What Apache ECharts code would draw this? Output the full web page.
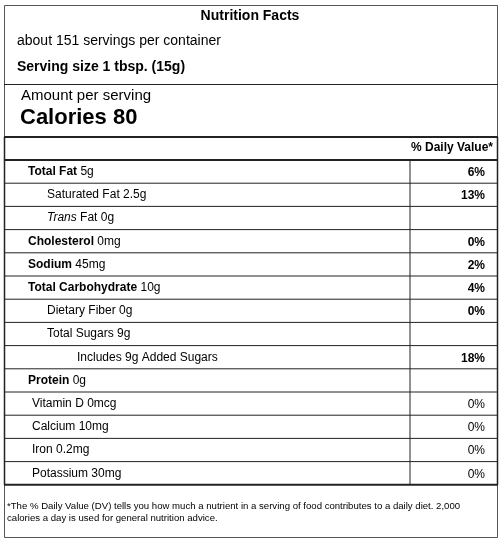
<!DOCTYPE html><html><head><meta charset="utf-8"><script src="https://cdn.jsdelivr.net/npm/echarts@6/dist/echarts.min.js"></script>
<style>html,body{margin:0;padding:0;background:#fff}#c{width:500px;height:541px}</style></head><body><div id="c"></div><script>
const nutrientNames=["Total Fat","Saturated Fat","Trans","Cholesterol","Sodium","Total Carbohydrate","Dietary Fiber","Total Sugars","Includes 9g Added Sugars","Protein","Vitamin D","Calcium","Iron","Potassium"];
const nutrientAmounts=["5g","2.5g","Fat 0g","0mg","45mg","10g","0g","9g","","0g","0mcg","10mg","0.2mg","30mg"];
const dailyValues=["6%","13%","","0%","2%","4%","0%","","18%","","0%","0%","0%","0%"];
const boldName=[1,0,0,1,1,1,0,0,0,1,0,0,0,0];
const boldDV=[1,1,0,1,1,1,1,0,1,0,0,0,0,0];
const indent=[28,47,47,28,28,28,47,47,77,28,32,32,32,32];
const F='"Liberation Sans",Arial,sans-serif';
const g=[];
const L=(x1,y1,x2,y2,w)=>g.push({type:'line',shape:{x1,y1,x2,y2},style:{stroke:'#222',lineWidth:w||1}});
const T=(x,y,t,o)=>g.push({type:'text',x,y,style:Object.assign({text:t,fill:'#000',font:'13px '+F,verticalAlign:'middle'},o||{})});
g.push({type:'rect',shape:{x:4.5,y:5.5,width:493,height:532},style:{fill:'none',stroke:'#555',lineWidth:1}});
T(250,16,'Nutrition Facts',{font:'bold 14px '+F,align:'center'});
T(17,41,'about 151 servings per container',{font:'14px '+F});
T(17,67,'Serving size 1 tbsp. (15g)',{font:'bold 14px '+F});
L(4,84.5,498,84.5);
T(21,96,'Amount per serving',{font:'15px '+F});
T(20,118,'Calories 80',{font:'bold 22px '+F});
const tTop=137,rh=23.2,x0=4,x1=498,xd=410;
L(x0,tTop,x1,tTop,2);
T(493,148,'% Daily Value*',{font:'bold 12px '+F,align:'right'});
const y0=tTop+23;
L(x0,y0,x1,y0,2);
nutrientNames.forEach((n,i)=>{
  const yc=y0+rh*i+rh/2;
  if(i===2){
    g.push({type:'text',x:indent[i],y:yc,style:{rich:{a:{font:'italic 12px '+F},b:{font:'12px '+F}},text:'{a|Trans} {b|Fat 0g}',verticalAlign:'middle'}});
  } else {
    g.push({type:'text',x:indent[i],y:yc,style:{rich:{a:{font:(boldName[i]?'bold ':'')+'12px '+F},b:{font:'12px '+F}},text:'{a|'+n+'}'+(nutrientAmounts[i]?' {b|'+nutrientAmounts[i]+'}':''),verticalAlign:'middle'}});
  }
  if(dailyValues[i]) T(485,yc+1,dailyValues[i],{font:(boldDV[i]?'bold ':'')+'12px '+F,align:'right'});
  if(i<nutrientNames.length-1) L(x0,y0+rh*(i+1),x1,y0+rh*(i+1),1);
});
const yb=y0+rh*nutrientNames.length;
L(x0,yb,x1,yb,2);
L(xd,y0,xd,yb,1);
L(x0+0.5,tTop,x0+0.5,yb,1.5);L(x1-0.5,tTop,x1-0.5,yb,1.5);
T(7,506,'*The % Daily Value (DV) tells you how much a nutrient in a serving of food contributes to a daily diet. 2,000',{font:'9.6px '+F});
T(7,518,'calories a day is used for general nutrition advice.',{font:'9.6px '+F});
const ch=echarts.init(document.getElementById('c'));
ch.setOption({graphic:g});
</script></body></html>
